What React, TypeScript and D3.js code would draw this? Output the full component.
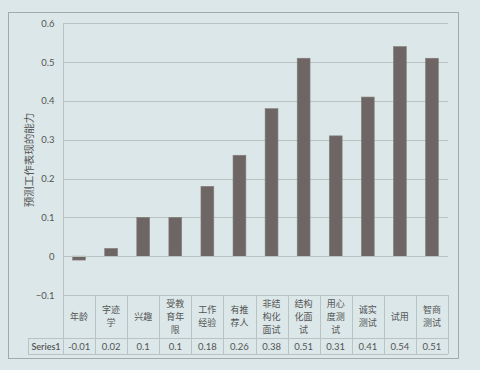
import React from 'react';
import * as d3 from 'd3';

// categories as shown in the data table (line breaks as in the picture)
const categories = ['年龄', '字迹学', '兴趣', '受教育年限', '工作经验', '有推荐人', '非结构化面试', '结构化面试', '用心度测试', '诚实测试', '试用', '智商测试'];
const categoryLines = [
  ['年龄'], ['字迹', '学'], ['兴趣'], ['受教', '育年', '限'], ['工作', '经验'], ['有推', '荐人'],
  ['非结', '构化', '面试'], ['结构', '化面', '试'], ['用心', '度测', '试'], ['诚实', '测试'], ['试用'], ['智商', '测试'],
];
const values = [-0.01, 0.02, 0.1, 0.1, 0.18, 0.26, 0.38, 0.51, 0.31, 0.41, 0.54, 0.51];
const valueLabels = ['-0.01', '0.02', '0.1', '0.1', '0.18', '0.26', '0.38', '0.51', '0.31', '0.41', '0.54', '0.51'];
const yTicks = [-0.1, 0, 0.1, 0.2, 0.3, 0.4, 0.5, 0.6];
const seriesName = 'Series1';
const yTitle = '预测工作表现的能力';

const width = 480;
const height = 370;
const margin = { top: 23.3, left: 63, right: 448, bottom: 295 };

const bg = '#dbe7e8';
const grid = '#b9c3c4';
const frame = '#a3aaab';
const barFill = '#6e6664';
const textColor = '#555';
const latin = 'Lato, "Noto Sans", sans-serif';
const cjk = '"Noto Sans CJK SC", sans-serif';

export default function App() {
  const ref = React.useRef<SVGSVGElement>(null);

  React.useEffect(() => {
    const svg = d3.select(ref.current);
    svg.selectAll('*').remove();

    const x = d3.scaleBand<string>().domain(categories).range([margin.left, margin.right]).paddingInner(0).paddingOuter(0);
    const y = d3.scaleLinear().domain([-0.1, 0.6]).range([margin.bottom, margin.top]);

    svg.append('rect').attr('width', width).attr('height', height).attr('fill', bg);
    svg.append('rect').attr('x', 8.5).attr('y', 12.5).attr('width', 450).attr('height', 346)
      .attr('fill', 'none').attr('stroke', frame).attr('stroke-width', 1);

    // gridlines
    svg.append('g').selectAll('line').data(yTicks.filter(t => t !== 0)).join('line')
      .attr('x1', margin.left).attr('x2', margin.right)
      .attr('y1', d => Math.round(y(d)) + 0.5).attr('y2', d => Math.round(y(d)) + 0.5)
      .attr('stroke', grid).attr('stroke-width', 1);

    // y axis
    const yAxis = svg.append('g').attr('transform', `translate(${margin.left + 0.5},0)`)
      .call(d3.axisLeft(y).tickValues(yTicks).tickSize(0).tickPadding(9).tickFormat(d => (d as number) === 0 ? '0' : d3.format('.1f')(d as number)));
    yAxis.select('.domain').attr('stroke', grid).attr('d', `M0,${margin.top}V${margin.bottom}`);
    yAxis.selectAll('text').attr('fill', textColor).style('font-family', latin).style('font-size', '9.5px');

    // bars
    svg.append('g').selectAll('rect').data(values).join('rect')
      .attr('x', (d, i) => x(categories[i])! + x.bandwidth() * 0.3)
      .attr('width', x.bandwidth() * 0.4)
      .attr('y', d => y(Math.max(0, d)))
      .attr('height', d => Math.abs(y(d) - y(0)))
      .attr('fill', barFill).attr('stroke', '#857d7b').attr('stroke-width', 0.6);

    // zero line
    svg.append('line').attr('x1', margin.left).attr('x2', margin.right)
      .attr('y1', Math.round(y(0)) + 0.5).attr('y2', Math.round(y(0)) + 0.5)
      .attr('stroke', grid).attr('stroke-width', 1);

    // data table
    const tableTop = margin.bottom;
    const rowTop = 338;
    const tableBottom = 354;
    const labelLeft = 28;
    const t = svg.append('g').attr('stroke', grid).attr('stroke-width', 1);
    t.append('line').attr('x1', margin.left).attr('x2', margin.right).attr('y1', tableTop + 0.5).attr('y2', tableTop + 0.5);
    t.append('line').attr('x1', labelLeft).attr('x2', margin.right).attr('y1', rowTop + 0.5).attr('y2', rowTop + 0.5);
    t.append('line').attr('x1', labelLeft).attr('x2', margin.right).attr('y1', tableBottom + 0.5).attr('y2', tableBottom + 0.5);
    t.append('line').attr('x1', labelLeft + 0.5).attr('x2', labelLeft + 0.5).attr('y1', rowTop).attr('y2', tableBottom);
    t.selectAll('line.v').data([...categories.map(c => x(c)!), margin.right]).join('line').attr('class', 'v')
      .attr('x1', d => Math.round(d) + 0.5).attr('x2', d => Math.round(d) + 0.5)
      .attr('y1', tableTop).attr('y2', tableBottom);

    const lineH = 13;
    const midY = (tableTop + rowTop) / 2;
    const cat = svg.append('g').attr('fill', textColor).style('font-family', cjk).style('font-size', '9px').attr('text-anchor', 'middle');
    categoryLines.forEach((lines, i) => {
      const cx = x(categories[i])! + x.bandwidth() / 2;
      lines.forEach((ln, j) => {
        cat.append('text').attr('x', cx)
          .attr('y', midY + (j - (lines.length - 1) / 2) * lineH)
          .attr('dy', '0.35em').text(ln);
      });
    });

    const vals = svg.append('g').attr('fill', textColor).style('font-family', latin).style('font-size', '9.5px').attr('text-anchor', 'middle');
    valueLabels.forEach((v, i) => {
      vals.append('text').attr('x', x(categories[i])! + x.bandwidth() / 2).attr('y', (rowTop + tableBottom) / 2 + 1).attr('dy', '0.35em').text(v);
    });
    svg.append('text').attr('x', (labelLeft + margin.left) / 2 + 0.5).attr('y', (rowTop + tableBottom) / 2 + 1).attr('dy', '0.35em')
      .attr('text-anchor', 'middle').attr('fill', textColor).style('font-family', latin).style('font-size', '9px').style('font-weight', 600)
      .text(seriesName);

    // y title
    svg.append('text').attr('transform', `translate(29,160) rotate(-90)`)
      .attr('text-anchor', 'middle').attr('dy', '0.35em').attr('fill', textColor)
      .style('font-family', cjk).style('font-size', '10.5px').text(yTitle);
  }, []);

  return (
    <svg ref={ref} width={width} height={height} style={{ position: 'absolute', left: 0, top: 0, display: 'block' }} />
  );
}
